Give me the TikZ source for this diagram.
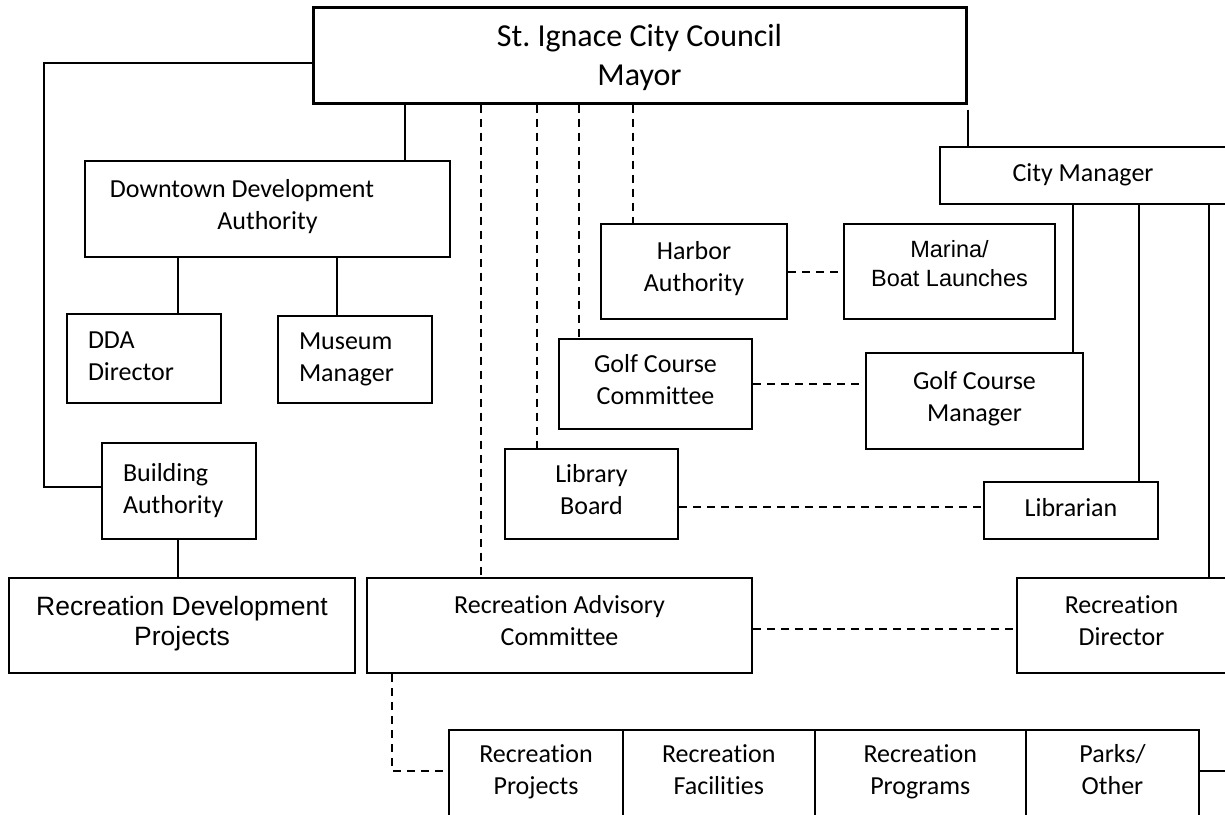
\documentclass[tikz,border=0pt]{standalone}
\usepackage{fontspec}
\setmainfont{Carlito}[Ligatures=NoCommon]
\newfontfamily\arialf{Liberation Sans}[Ligatures=NoCommon]
\frenchspacing
\begin{document}
\begin{tikzpicture}[x=1pt,y=-1pt,
  box/.style={draw=black, line width=2pt, rectangle, inner sep=0pt, align=center,
    font=\fontsize{26}{32}\selectfont,
    execute at begin node=\strut, execute at end node=\strut},
  lbox/.style={box, inner xsep=21pt, align=left},
  conn/.style={line width=2pt},
  dconn/.style={line width=2pt, dash pattern=on 8pt off 6pt},
]
\useasboundingbox (0,0) rectangle (1225,814);
\clip (0,0) rectangle (1225,814);
\fill[white] (0,0) rectangle (1225,814);

% boxes
\node[box, line width=3pt, minimum width=653pt, minimum height=96pt] (council) at (639.5,55) {};
\node[font=\fontsize{32}{39}\selectfont, align=center, inner sep=0pt,
  execute at begin node=\strut, execute at end node=\strut] (counciltext)
  at ([yshift=-5.5pt]council.center) {St. Ignace City Council\\Mayor};
\node[box, minimum width=365pt, minimum height=96pt] (dda) at (267.5,209)
  {Downtown Development\hspace*{51pt}\\Authority};
\node[lbox, text width=112pt, minimum height=89pt] (ddadir) at (144,358.5) {DDA\\Director};
\node[lbox, text width=112pt, minimum height=87pt] (museum) at (355,359.5) {Museum\\Manager};
\node[lbox, text width=112pt, minimum height=96pt] (building) at (179,491) {Building\\Authority};
\node[box, minimum width=346pt, minimum height=95pt,
  font=\arialf\fontsize{26.5}{30}\selectfont] (recdev) at (182,625.5) {Recreation Development\\Projects};
\node[box, minimum width=385pt, minimum height=95pt] (recadv) at (559.5,625.5) {Recreation Advisory\\Committee};
\node[box, minimum width=186pt, minimum height=95pt] (harbor) at (694,271.5) {Harbor\\Authority};
\node[box, minimum width=211pt, minimum height=95pt] (marina) at (949.5,271.5) {};
\node[font=\arialf\fontsize{23.5}{29}\selectfont, align=center, inner sep=0pt] (marinatext)
  at ([yshift=8pt]marina.center) {Marina/\\Boat Launches};
\node[box, minimum width=286pt, minimum height=57pt] (citymgr) at (1083,175.5) {City Manager};
\node[box, minimum width=193pt, minimum height=90pt] (gcc) at (655.5,384) {Golf Course\\Committee};
\node[box, minimum width=217pt, minimum height=96pt] (gcm) at (974.5,401) {Golf Course\\Manager};
\node[box, minimum width=173pt, minimum height=90pt] (libboard) at (591.5,494) {Library\\Board};
\node[box, minimum width=174pt, minimum height=57pt] (librarian) at (1071,510.5) {Librarian};
\node[box, minimum width=209pt, minimum height=95pt] (recdir) at (1121.5,625.5) {Recreation\\Director};
\node[box, minimum width=174pt, minimum height=88pt] (recproj) at (536,774) {Recreation\\Projects};
\node[box, minimum width=191.5pt, minimum height=88pt] (recfac) at (718.75,774) {Recreation\\Facilities};
\node[box, minimum width=211.5pt, minimum height=88pt] (recprog) at (920.25,774) {Recreation\\Programs};
\node[box, minimum width=173pt, minimum height=88pt] (parks) at (1112.5,774) {Parks/\\Other};

% helper coordinates
\coordinate (b1) at (44,63);
\coordinate (b2) at (44,487);
\coordinate (x405) at (405,0);
\coordinate (x178) at (178,0);
\coordinate (x337) at (337,0);
\coordinate (x481) at (481,0);
\coordinate (x537) at (537,0);
\coordinate (x579) at (579,0);
\coordinate (x633) at (633,0);
\coordinate (x1073) at (1073,0);
\coordinate (x1139) at (1139,0);
\coordinate (x1209) at (1209,0);
\coordinate (y507) at (0,507);
\coordinate (y629) at (0,629);
\coordinate (rc1) at (392,771);
\coordinate (offr) at (1240,771);

% solid connectors
\draw[conn] (council.west |- b1) -- (b1) -- (b2) -- (building.west |- b2);
\draw[conn] (council.south -| x405) -- (dda.north -| x405);
\draw[conn] (dda.south -| x178) -- (ddadir.north -| x178);
\draw[conn] (dda.south -| x337) -- (museum.north -| x337);
\draw[conn] (building.south -| x178) -- (recdev.north -| x178);
\draw[conn] ([yshift=-5pt]council.south east) -- (citymgr.north -| council.south east);
\draw[conn] (citymgr.south -| x1073) -- (gcm.north -| x1073);
\draw[conn] (citymgr.south -| x1139) -- (librarian.north -| x1139);
\draw[conn] (citymgr.south -| x1209) -- (recdir.north -| x1209);
\draw[conn] (parks.east |- offr) -- (offr);

% dashed connectors
\draw[dconn] (council.south -| x481) -- (recadv.north -| x481);
\draw[dconn] (council.south -| x537) -- (libboard.north -| x537);
\draw[dconn] (council.south -| x579) -- (gcc.north -| x579);
\draw[dconn] (council.south -| x633) -- (harbor.north -| x633);
\draw[dconn] (harbor.east) -- (marina.west);
\draw[dconn] (gcc.east) -- (gcc.east -| gcm.west);
\draw[dconn] (libboard.east |- y507) -- (librarian.west |- y507);
\draw[dconn] (recadv.east |- y629) -- (recdir.west |- y629);
\draw[dconn] (recadv.south -| rc1) -- (rc1) -- (recproj.west |- rc1);
\end{tikzpicture}
\end{document}
